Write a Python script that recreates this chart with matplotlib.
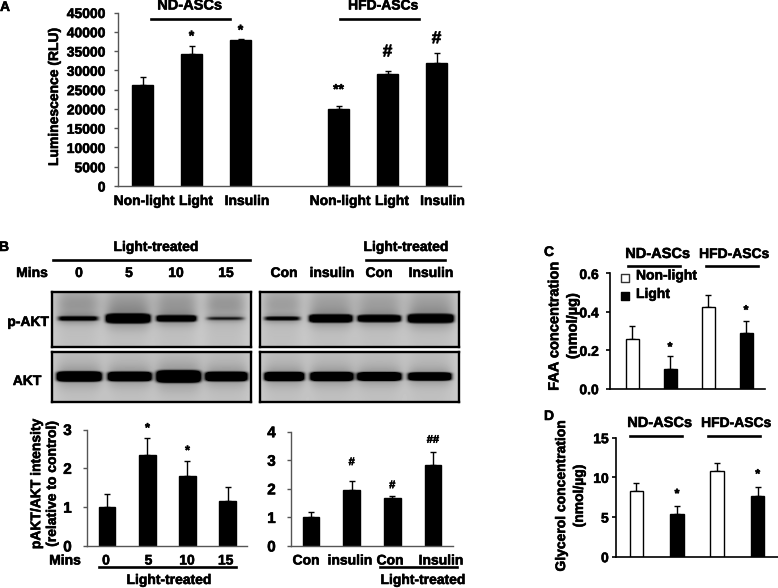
import numpy as np
import matplotlib
matplotlib.use("Agg")
import matplotlib.pyplot as plt
import matplotlib.patheffects as pe
from matplotlib.text import Text

plt.rcParams['font.family'] = ['Liberation Sans', 'DejaVu Sans']
plt.rcParams['font.weight'] = 'bold'

W, H = 778, 588

# panel A
a_labels = ["Non-light", "Light", "Insulin", "Non-light", "Light", "Insulin"]
a_values = [26300, 34300, 37800, 19900, 29000, 32000]
a_errors = [2100, 1900, 400, 900, 900, 2600]
a_marks = ["", "*", "*", "**", "#", "#"]

# panel B, quantification
b1_values = [1.0, 2.35, 1.8, 1.15]
b1_errors = [0.33, 0.42, 0.39, 0.38]
b1_marks = ["", "*", "*", ""]
b2_values = [1.0, 1.95, 1.68, 2.85]
b2_errors = [0.2, 0.33, 0.06, 0.43]
b2_marks = ["", "#", "#", "##"]

# panel B, blot bands: lane centre, half width, half height, darkness
pakt_left = [(0.13, 0.10, 2.2, 0.85), (0.382, 0.108, 4.2, 2.0), (0.626, 0.098, 3.0, 1.5), (0.873, 0.094, 1.5, 0.45)]
pakt_right = [(0.11, 0.09, 1.9, 0.72), (0.355, 0.105, 3.6, 1.9), (0.60, 0.105, 3.2, 1.8), (0.86, 0.111, 4.0, 2.0)]
akt_left = [(0.135, 0.11, 4.6, 2.0), (0.39, 0.108, 4.4, 1.8), (0.637, 0.109, 5.6, 2.0), (0.878, 0.104, 4.4, 1.8)]
akt_right = [(0.12, 0.098, 4.2, 1.8), (0.36, 0.106, 4.2, 1.8), (0.60, 0.109, 4.0, 1.8), (0.855, 0.107, 3.8, 1.7)]

# panels C and D
c_values = [0.26, 0.105, 0.425, 0.29]
c_errors = [0.065, 0.065, 0.065, 0.065]
c_marks = ["", "*", "", "*"]
d_values = [8.3, 5.4, 10.8, 7.7]
d_errors = [1.05, 1.05, 1.05, 1.05]
d_marks = ["", "*", "", "*"]
bar_colors = ["white", "black", "white", "black"]

fig = plt.figure(figsize=(W / 100, H / 100), dpi=100)


def px_axes(x0, y0, x1, y1):
    # box given in image pixels, y counted from the top
    return fig.add_axes([x0 / W, 1 - y1 / H, (x1 - x0) / W, (y1 - y0) / H])


def label(x, y, s, size=10, ha='center', rotation=0, spacing=1.0):
    fig.text(x / W, 1 - y / H, s, fontsize=size, ha=ha, va='center', rotation=rotation,
             fontweight='bold', linespacing=spacing)


def rule(x0, x1, y, lw=1.9):
    fig.add_artist(plt.Line2D([x0 / W, x1 / W], [1 - y / H, 1 - y / H], color='black', lw=lw))


def bar_panel(box, centers, width, values, errors, ymax, step, colors='black', size=10,
              spine_color='#555555', lw=1.0, pad=3):
    ax = px_axes(*box)
    x0, y0, x1, y1 = box
    ax.set_xlim(x0, x1)
    ax.set_ylim(0, ymax)
    ax.bar(centers, values, width, color=colors, edgecolor='black', linewidth=1.0, zorder=2)
    ax.errorbar(centers, values, yerr=[[0] * len(values), errors], fmt='none', ecolor='black',
                elinewidth=1.0, capsize=2.2, capthick=1.0, zorder=1)
    ax.set_yticks(np.arange(0, ymax + step / 2, step))
    ax.set_xticks([])
    ax.tick_params(axis='y', length=3, width=lw, color=spine_color, labelsize=size, pad=pad)
    for s in ('top', 'right'):
        ax.spines[s].set_visible(False)
    for s in ('left', 'bottom'):
        ax.spines[s].set_color(spine_color)
        ax.spines[s].set_linewidth(lw)
    ax.patch.set_alpha(0)
    return ax


def marks(ax, centers, values, errors, symbols, gaps, sizes):
    for c, v, e, s, g, z in zip(centers, values, errors, symbols, gaps, sizes):
        if s:
            ax.annotate(s, (c, v + e), xytext=(0, g), textcoords='offset points',
                        ha='center', va='center', fontsize=z, fontweight='bold')


def blot(box, bands, upper):
    x0, y0, x1, y1 = box
    h, w = int(y1 - y0), int(x1 - x0)
    xs = np.linspace(0, 1, w)
    ys = np.arange(h) - h * 0.5 + 1
    img = np.full((h, w), 0.80)
    # darker lane smear, strongest above the band
    for c, hw, hh, dark in bands:
        lane = np.exp(-((xs - c) / (hw * 1.12)) ** 4)
        smear = upper * np.exp(-(ys + h * 0.25) ** 2 / (2 * (h * 0.2) ** 2)) + 0.05
        img -= np.outer(smear, lane)
    for c, hw, hh, dark in bands:
        band = np.exp(-((xs - c) / hw) ** 8)
        halo = np.exp(-((xs - c) / (hw * 1.05)) ** 6)
        img -= 0.16 * np.outer(np.exp(-(ys / (hh * 2.4)) ** 2), halo)
        img -= dark * np.outer(np.exp(-(ys / hh) ** 4), band)
    ax = px_axes(*box)
    ax.imshow(np.clip(img, 0, 1), cmap='gray', vmin=0, vmax=1, aspect='auto', interpolation='bilinear')
    ax.set_xticks([])
    ax.set_yticks([])
    for s in ax.spines.values():
        s.set_linewidth(1.7)


# ---- panel A
a_box = (118, 12.5, 461, 186)
a_centers = [142.5, 191.5, 240.5, 338.5, 387.5, 436.5]
ax_a = bar_panel(a_box, a_centers, 21, a_values, a_errors, 45000, 5000, pad=6)
marks(ax_a, a_centers, a_values, a_errors, a_marks, [0, 7.3, 6, 11.6, 13.5, 10], [10, 10, 10, 10, 12.5, 12.5])
for x, s in zip([144, 196, 247, 340, 392, 442.5], a_labels):
    label(x, 201, s)
label(54, 97, "Luminescence (RLU)", rotation=90)
label(190, 5.5, "ND-ASCs", 10.5)
label(383, 5.5, "HFD-ASCs", 10)
rule(151, 230, 18.5)
rule(340, 419, 18.5)
label(5, 7, "A", 10)

# ---- panel B blots
label(4, 247, "B", 10)
label(156, 247, "Light-treated", 10)
label(406, 247, "Light-treated", 10)
rule(53, 250, 260)
rule(366, 445, 260)
for x, s in zip([32, 79, 129, 176, 226, 284, 332, 379, 431],
                ["Mins", "0", "5", "10", "15", "Con", "insulin", "Con", "Insulin"]):
    label(x, 273, s, 10)
blot((52, 292, 251, 347), pakt_left, 0.16)
blot((260, 292, 459, 347), pakt_right, 0.13)
blot((52, 352, 251, 402), akt_left, 0.03)
blot((260, 352, 459, 402), akt_right, 0.03)
label(28, 322, "p-AKT", 10)
label(27, 381, "AKT", 10)

# ---- panel B bars
b1_centers = [107, 147.5, 187.5, 227.7]
ax_b1 = bar_panel((87, 429.5, 247, 546), b1_centers, 16.5, b1_values, b1_errors, 3, 1, size=11, pad=8)
marks(ax_b1, b1_centers, b1_values, b1_errors, b1_marks, [0, 7, 7, 0], [9] * 4)
b2_centers = [311, 351.7, 392.3, 433]
ax_b2 = bar_panel((291, 431.7, 453, 546), b2_centers, 16.7, b2_values, b2_errors, 4, 1, size=11, pad=8)
marks(ax_b2, b2_centers, b2_values, b2_errors, b2_marks, [0, 13.5, 8, 9], [8] * 4)
label(44, 484, "pAKT/AKT intensity\n(relative to control)", 10, rotation=90, spacing=1.15)
for x, s in zip([65, 106, 148.5, 187, 225.7], ["Mins", "0", "5", "10", "15"]):
    label(x, 560.5, s, 10)
rule(99, 236, 566.5)
label(169, 580, "Light-treated", 10)
for x, s in zip([306, 350, 390, 441], ["Con", "insulin", "Con", "Insulin"]):
    label(x, 560.5, s, 10)
rule(380, 457, 566.5)
label(423, 580, "Light-treated", 10)

# ---- panel C
c_centers = [632.3, 670, 708, 746]
ax_c = bar_panel((610, 273.5, 765, 388.7), c_centers, 13, c_values, c_errors, 0.6, 0.2,
                 colors=bar_colors, spine_color='black', lw=1.2, pad=5)
marks(ax_c, c_centers, c_values, c_errors, c_marks, [0, 6, 0, 7], [9] * 4)
label(563.5, 326, "FAA concentration\n(nmol/\u00b5g)", 10.5, rotation=90, spacing=1.4)
label(549, 252, "C", 10)
label(658, 254, "ND-ASCs", 10.5)
label(734, 254, "HFD-ASCs", 10)
rule(628, 680, 266)
rule(706, 758, 266)
ax_c.scatter([624.7], [0.575], marker='s', s=30, facecolor='white', edgecolor='#333333', linewidth=1.0, clip_on=False, zorder=3)
ax_c.scatter([624.7], [0.482], marker='s', s=40, color='black', clip_on=False, zorder=3)
label(636, 275.5, "Non-light", 10, ha='left')
label(636, 294, "Light", 10, ha='left')

# ---- panel D
d_centers = [636.3, 677, 717, 757.7]
ax_d = bar_panel((615.7, 437.7, 778, 556.7), d_centers, 13.3, d_values, d_errors, 15, 5,
                 colors=bar_colors, spine_color='black', lw=1.2, pad=2)
marks(ax_d, d_centers, d_values, d_errors, d_marks, [0, 8, 0, 9], [9] * 4)
label(570, 496, "Glycerol concentration\n(nmol/\u00b5g)", 10, rotation=90, spacing=1.35)
label(549, 416, "D", 10)
label(660, 423, "ND-ASCs", 10.5)
label(736, 423, "HFD-ASCs", 10)
rule(630, 682, 436)
rule(708, 760, 436)

# the reference type is heavy, thicken everything slightly
for t in fig.findobj(Text):
    t.set_path_effects([pe.withStroke(linewidth=0.4, foreground='black')])

fig.savefig("out.png", dpi=100)
